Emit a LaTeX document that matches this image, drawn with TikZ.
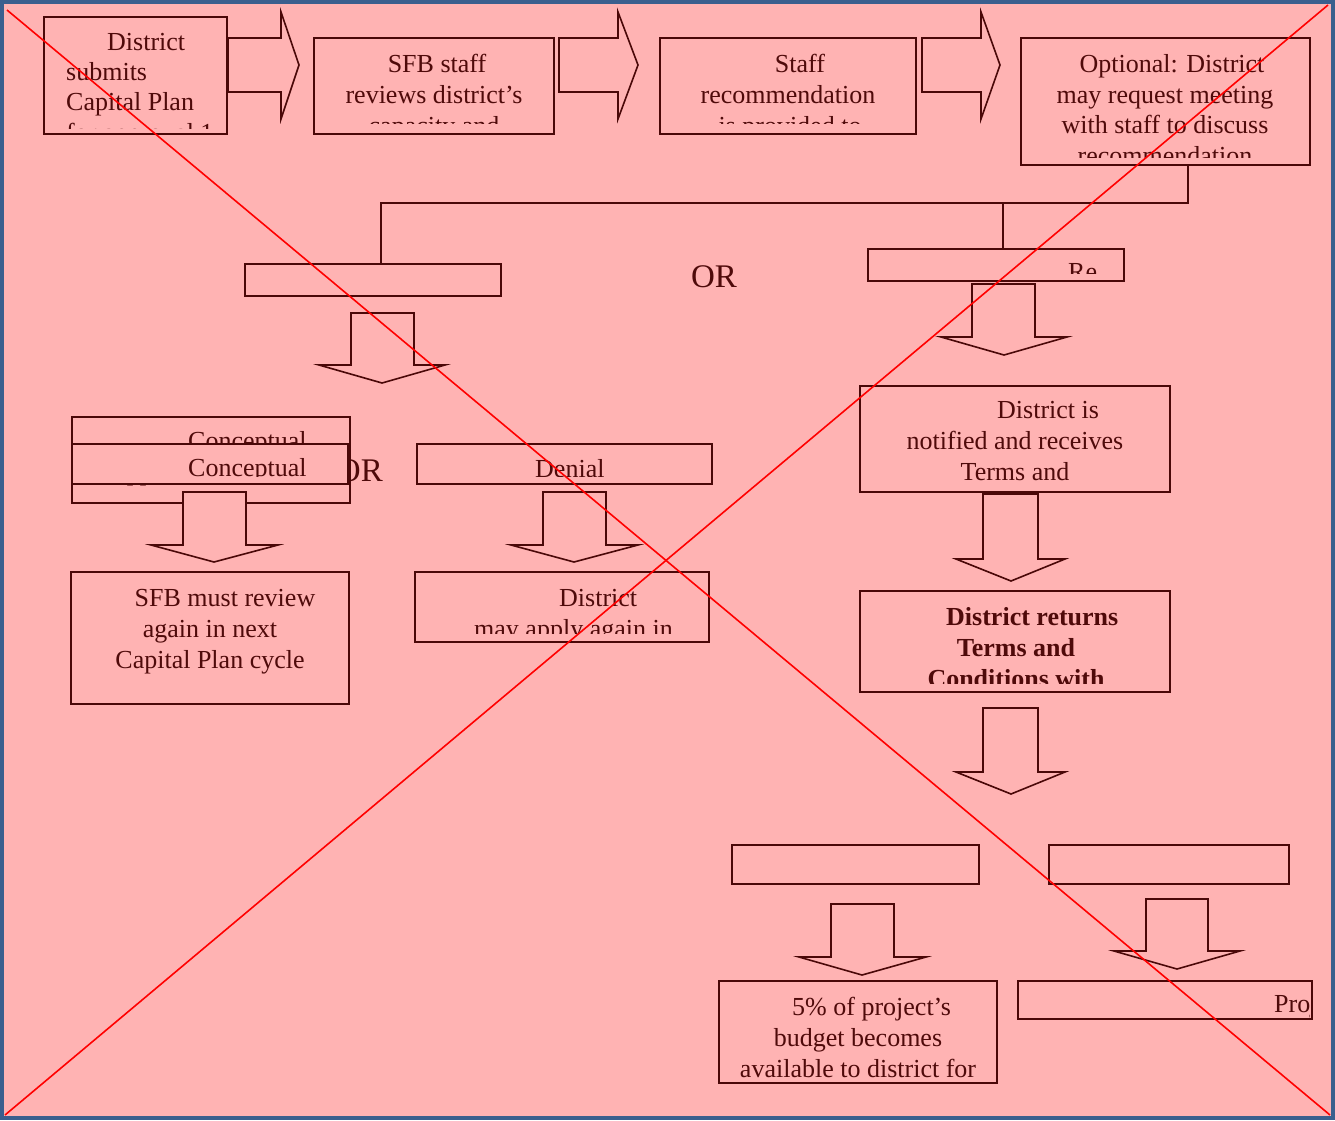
\documentclass[tikz,border=0pt]{standalone}
\usepackage{fontspec}
\setmainfont{Liberation Serif}
\definecolor{pk}{HTML}{FFB3B3}
\definecolor{lc}{HTML}{4A0808}
\definecolor{tc}{HTML}{4F0A0A}
\definecolor{bd}{HTML}{3A5F8E}
\newcommand\fs{\fontsize{26}{30}\selectfont}
\newcommand\TC[4]{\node[txt,anchor=base] (#1) at (#2,#3) {#4};}
\newcommand\TW[4]{\node[txt,anchor=base west] (#1) at (#2,#3) {#4};}
\newcommand\BX[5]{\node[box,anchor=north west,minimum width=#4pt-#2pt,minimum height=#5pt-#3pt] (#1) at (#2,#3) {};}
\newcommand\DArr[8]{\draw[barrow] (#1,#3) -- (#2,#3) -- (#2,#4) -- (#6,#4) -- (#8,#7) -- (#5,#4) -- (#1,#4) -- cycle;}
\newcommand\RArr[3]{\draw[barrow] (#1,38) -- (#2,38) -- (#2,12) -- (#3,65) -- (#2,119) -- (#2,92) -- (#1,92) -- cycle;}
\begin{document}
\begin{tikzpicture}[x=1pt,y=-1pt,
  box/.style={draw=lc,fill=pk,line width=1.6pt,inner sep=0pt,outer sep=0pt},
  txt/.style={font=\fs,text=tc,inner sep=0pt},
  ln/.style={draw=lc,line width=1.6pt},
  barrow/.style={draw=lc,fill=pk,line width=1.6pt,line join=miter},
  xline/.style={draw=red,line width=1.6pt}]
\useasboundingbox (0,0) rectangle (1335,1120);
\fill[pk] (0,0) rectangle (1335,1120);
\draw[bd,line width=4pt] (2,2) rectangle (1333,1118);

% top row
\BX{b1}{44}{17}{227}{134}
\begin{scope}\clip (45,18) rectangle (226,128);
\TW{t1a}{107}{50}{District}
\TW{t1b}{66}{80}{submits}
\TW{t1c}{66}{110}{Capital Plan}
\TW{t1d}{66}{141}{for approval 1}
\end{scope}
\RArr{228}{281}{299}

\BX{b2}{314}{38}{554}{134}
\begin{scope}\clip (315,39) rectangle (553,123);
\TC{t2a}{437}{72}{SFB staff}
\TC{t2b}{434}{103}{reviews district’s}
\TC{t2c}{434}{134}{capacity and}
\end{scope}
\RArr{559}{618}{638}

\BX{b3}{660}{38}{916}{134}
\begin{scope}\clip (661,39) rectangle (915,123);
\TC{t3a}{800}{72}{Staff}
\TC{t3b}{788}{103}{recommendation}
\TC{t3c}{790}{134}{is provided to}
\end{scope}
\RArr{922}{981}{1000}

\BX{b4}{1021}{38}{1310}{165}
\begin{scope}\clip (1022,39) rectangle (1309,157);
\TC{t4a}{1172}{72}{Optional: District}
\TC{t4b}{1165}{103}{may request meeting}
\TC{t4c}{1165}{133}{with staff to discuss}
\TC{t4d}{1165}{164}{recommendation}
\end{scope}

% connectors
\coordinate (j) at (1188,203);
\coordinate (jL) at (381,203);
\coordinate (jR) at (1003,203);

\BX{b5}{245}{264}{501}{296}
\BX{b6}{868}{249}{1124}{281}
\begin{scope}\clip (869,250) rectangle (1123,273);
\TW{t6a}{1068}{280}{Re}
\end{scope}
\draw[ln] (b4.south -| j) -- (j) -- (jL) -- (jL |- b5.north);
\draw[ln] (jR) -- (jR |- b6.north);

\node[txt,font=\fontsize{33}{36}\selectfont,anchor=base] (or1) at (714,287) {OR};

\DArr{351}{414}{313}{365}{319}{445}{383}{382}
\DArr{972}{1035}{284}{337}{941}{1067}{355}{1004}

% left branch
\node[txt,font=\fontsize{33}{36}\selectfont,anchor=base east] (or2) at (383,481) {OR};
\BX{b7}{72}{417}{350}{503}
\begin{scope}\clip (73,418) rectangle (349,502);
\TW{t7a}{188}{449}{Conceptual}
\TW{t7b}{108}{480}{Approval}
\end{scope}
\BX{b8}{72}{444}{348}{484}
\begin{scope}\clip (73,445) rectangle (347,476);
\TW{t8a}{188}{476}{Conceptual}
\end{scope}
\BX{b9}{417}{444}{712}{484}
\begin{scope}\clip (418,445) rectangle (711,476);
\TW{t9a}{535}{477}{Denial}
\end{scope}

\DArr{183}{246}{492}{545}{151}{278}{562}{214}
\DArr{543}{606}{492}{545}{511}{638}{562}{574}

\BX{b10}{71}{572}{349}{704}
\TC{t10a}{225}{606}{SFB must review}
\TC{t10b}{210}{637}{again in next}
\TC{t10c}{210}{668}{Capital Plan cycle}

\BX{b11}{415}{572}{709}{642}
\begin{scope}\clip (416,573) rectangle (708,633);
\TW{t11a}{559}{606}{District}
\TW{t11b}{474}{637}{may apply again in}
\end{scope}

% right branch
\BX{b12}{860}{386}{1170}{492}
\begin{scope}\clip (861,387) rectangle (1169,486);
\TW{t12a}{997}{418}{District is}
\TC{t12b}{1015}{449}{notified and receives}
\TC{t12c}{1015}{480}{Terms and}
\end{scope}
\DArr{983}{1038}{494}{559}{956}{1065}{581}{1011}

\BX{b13}{860}{591}{1170}{692}
\begin{scope}\clip (861,592) rectangle (1169,683);
\node[txt,font=\fs\bfseries,anchor=base west] (t13a) at (946,625) {District returns};
\node[txt,font=\fs\bfseries,anchor=base] (t13b) at (1016,656) {Terms and};
\node[txt,font=\fs\bfseries,anchor=base] (t13c) at (1016,687) {Conditions with};
\end{scope}
\DArr{983}{1038}{708}{772}{956}{1065}{794}{1011}

\BX{b14}{732}{845}{979}{884}
\BX{b15}{1049}{845}{1289}{884}
\DArr{831}{894}{904}{957}{799}{926}{975}{862}
\DArr{1146}{1208}{899}{951}{1114}{1240}{969}{1177}

\BX{b16}{719}{981}{997}{1083}
\begin{scope}\clip (720,982) rectangle (996,1079);
\TW{t16a}{792}{1015}{5\% of project’s}
\TC{t16b}{858}{1046}{budget becomes}
\TC{t16c}{858}{1077}{available to district for}
\end{scope}
\BX{b17}{1018}{981}{1312}{1019}
\begin{scope}\clip (1019,982) rectangle (1309,1018);
\TW{t17a}{1274}{1012}{Project}
\end{scope}

% red cross
\draw[xline] (7,10) -- (1330,1115);
\draw[xline] (1328,5) -- (5,1115);
\end{tikzpicture}
\end{document}
